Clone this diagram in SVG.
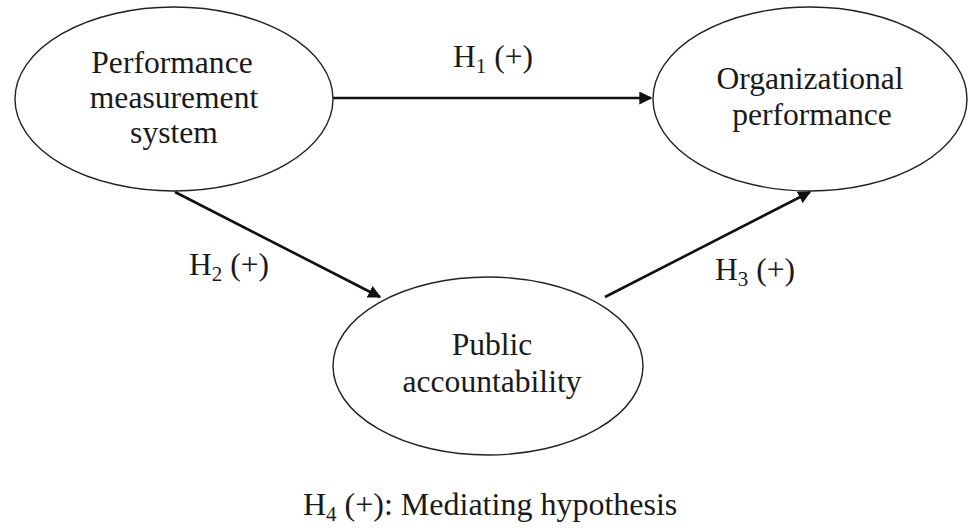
<svg xmlns="http://www.w3.org/2000/svg" width="970" height="530" viewBox="0 0 970 530">
<defs>
<style>
.node ellipse{fill:#fff;stroke:#222;stroke-width:1.4}
text{font-family:"Liberation Serif","Times New Roman",serif;font-size:31.6px;fill:#1a1a1a}
.lbl{text-anchor:start}
.ctr{text-anchor:middle}
.sub{font-size:21px}
.conn line{stroke:#111;stroke-width:2.6}
</style>
<marker id="ah" viewBox="0 0 10 10" refX="9" refY="5" markerWidth="5" markerHeight="5" orient="auto" markerUnits="strokeWidth">
<path d="M0,0 L10,5 L0,10 z" fill="#111"/>
</marker>
</defs>
<rect width="970" height="530" fill="#fff"/>
<g class="conn">
<line x1="333" y1="98" x2="651" y2="98" marker-end="url(#ah)"/>
<line x1="175" y1="192" x2="380" y2="297" marker-end="url(#ah)"/>
<line x1="605" y1="297" x2="810" y2="192" marker-end="url(#ah)"/>
</g>
<g id="pms" class="node">
<ellipse cx="174" cy="99" rx="159" ry="92"/>
<text class="ctr" x="172" y="73">Performance</text>
<text class="ctr" x="174" y="108">measurement</text>
<text class="ctr" x="174" y="143">system</text>
</g>
<g id="op" class="node">
<ellipse cx="810" cy="99" rx="157" ry="92"/>
<text class="ctr" x="810" y="89">Organizational</text>
<text class="ctr" x="812" y="125">performance</text>
</g>
<g id="pa" class="node">
<ellipse cx="488" cy="366" rx="155" ry="89"/>
<text class="ctr" x="492" y="355">Public</text>
<text class="ctr" x="492" y="392">accountability</text>
</g>
<g id="labels">
<text class="lbl" x="303" y="515" style="font-size:32px">H<tspan class="sub" dy="6">4</tspan><tspan dy="-6"> (+): Mediating hypothesis</tspan></text>
<text class="lbl" x="453" y="67">H<tspan class="sub" dy="6">1</tspan><tspan dy="-6"> (+)</tspan></text>
<text class="lbl" x="189" y="275">H<tspan class="sub" dy="6">2</tspan><tspan dy="-6"> (+)</tspan></text>
<text class="lbl" x="715" y="280">H<tspan class="sub" dy="6">3</tspan><tspan dy="-6"> (+)</tspan></text>
</g>
</svg>
